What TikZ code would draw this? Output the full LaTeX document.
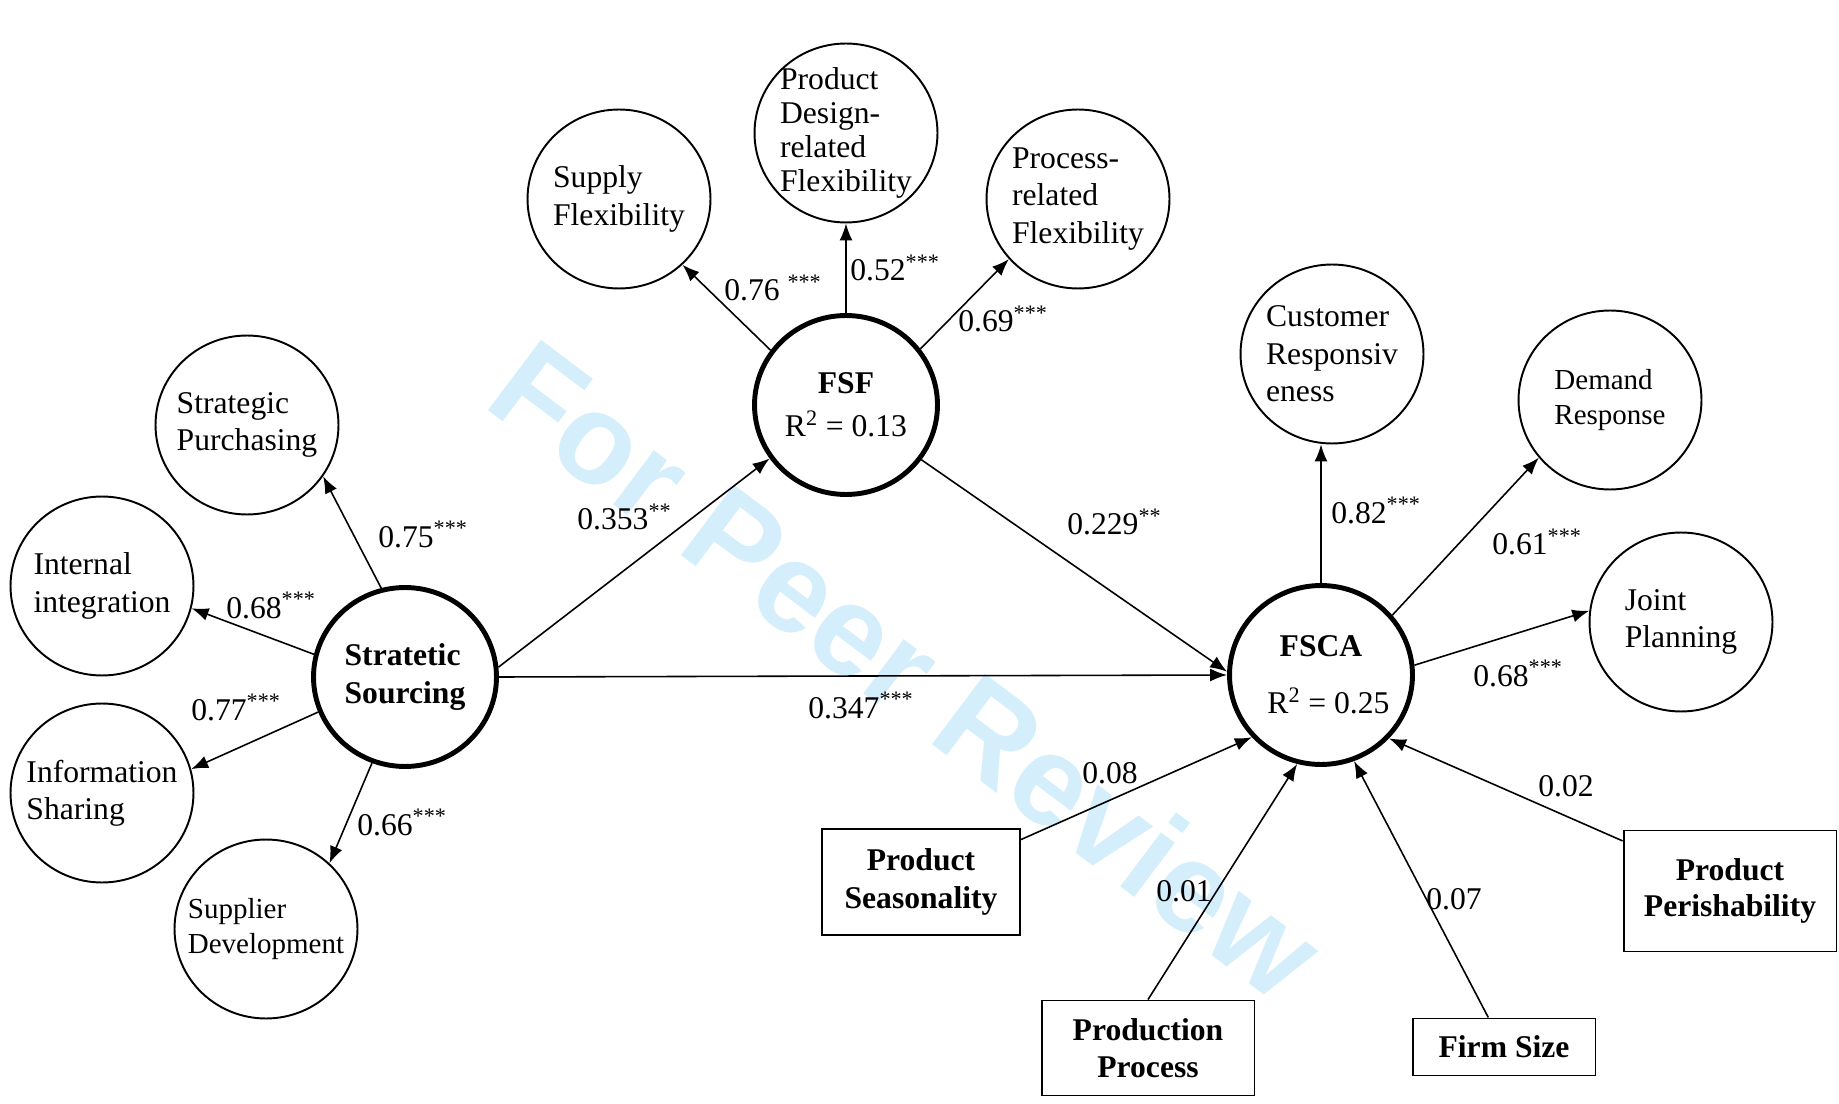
\documentclass[tikz,border=0pt]{standalone}
\usepackage{fontspec}
\setmainfont{Liberation Serif}
\newfontfamily\wmfont{Liberation Sans}
\usetikzlibrary{shapes.geometric,arrows.meta}
\definecolor{wmblue}{RGB}{212,239,251}
\newcommand{\sig}[1]{\textsuperscript{#1}}

\begin{document}
\begin{tikzpicture}[x=0.02cm,y=-0.02cm,
		latent/.style={ellipse,draw,line width=1.1pt,minimum width=3.66cm,minimum height=3.58cm,inner sep=-0.3cm,align=left,font=\fontsize{18}{21.3}\selectfont},
		factor/.style={latent,line width=2.8pt},
		ctrl/.style={rectangle,draw,line width=1.1pt,inner sep=0pt,align=center,font=\bfseries\fontsize{18}{21.3}\selectfont},
		coef/.style={anchor=base west,inner sep=0pt,font=\fontsize{18}{21.3}\selectfont},
		arr/.style={line width=0.9pt,-{Latex[length=0.34cm,width=0.26cm]}}]
		\useasboundingbox (0,0) rectangle (1839,1104);
		% watermark
		\node[rotate=-37,anchor=base west,inner sep=0pt,text=wmblue,font=\wmfont\bfseries\fontsize{73}{73}\selectfont] (wm) at (481,405) {For Peer Review};
		% Stratetic Sourcing and its indicators
		\node[factor,font=\bfseries\fontsize{18}{21.3}\selectfont] (ss) at (405,677) {Stratetic\\Sourcing};
		\node[latent] (sp) at (247,425) {Strategic\\Purchasing};
		\node[latent] (ii) at (102,586) {Internal\\integration};
		\node[latent] (is) at (102,793) {Information\\Sharing};
		\node[latent,font=\fontsize{16.5}{19.5}\selectfont] (sd) at (266,929) {Supplier\\Development};
		% FSF
		\node[factor,align=center] (fsf) at (846,405) {\textbf{FSF}\\[3pt]R\textsuperscript{2} = 0.13};
		\node[latent] (sf) at (619,199) {Supply\\Flexibility};
		\node[latent,font=\fontsize{18}{19.3}\selectfont] (pdf) at (846,133) {Product\\Design-\\related\\Flexibility};
		\node[latent] (prf) at (1078,199) {Process-\\related\\Flexibility};
		% FSCA
		\node[factor,align=center] (fsca) at (1321,675) {\textbf{FSCA}\\[11pt]\hspace{0.3cm}R\textsuperscript{2} = 0.25};
		\node[latent] (cr) at (1332,354) {Customer\\Responsiv\\eness};
		\node[latent,font=\fontsize{16.5}{19.5}\selectfont] (dr) at (1610,400) {Demand\\Response};
		\node[latent] (jp) at (1681,622) {Joint\\Planning};
		% controls
		\node[ctrl,minimum width=3.96cm,minimum height=2.12cm] (ps) at (921,882) {Product\\Seasonality};
		\node[ctrl,minimum width=4.26cm,minimum height=1.9cm] (pp) at (1148,1048) {Production\\Process};
		\node[ctrl,minimum width=3.66cm,minimum height=1.14cm] (fs) at (1504,1047) {Firm Size};
		\node[ctrl,minimum width=4.26cm,minimum height=2.42cm,font=\bfseries\fontsize{18}{20}\selectfont] (pper) at (1730,891) {Product\\Perishability};
		% paths
		\draw[arr] (ss.105)--(sp.-34);
		\draw[arr] (ss.166)--(ii.-14);
		\draw[arr] (ss.202)--(is.15);
		\draw[arr] (ss.249)--(sd.46);
		\draw[arr] (ss.6)--(fsf.215);
		\draw[arr] (ss.east)--(fsca.west);
		\draw[arr] (fsf.-36)--(fsca.178);
		\draw[arr] (fsf.144)--(sf.-46);
		\draw[arr] (fsf.north)--(pdf.south);
		\draw[arr] (fsf.37)--(prf.221);
		\draw[arr] (fsca.north)--(fsca.north |- cr.south);
		\draw[arr] (fsca.40)--(dr.219);
		\draw[arr] (fsca.6)--(jp.173);
		\draw[arr] (ps.23)--(fsca.222);
		\draw[arr] (pp.north)--(fsca.255);
		\draw[arr] (fs.118)--(fsca.291);
		\draw[arr] (pper.155)--(fsca.317);
		% coefficients
		\node[coef] (c1) at (378,547) {0.75\sig{***}};
		\node[coef] (c2) at (226,618) {0.68\sig{***}};
		\node[coef] (c3) at (191,720) {0.77\sig{***}};
		\node[coef] (c4) at (357,835) {0.66\sig{***}};
		\node[coef] (c5) at (724,301) {0.76 \sig{***}};
		\node[coef] (c6) at (850,281) {0.52\sig{***}};
		\node[coef] (c7) at (958,332) {0.69\sig{***}};
		\node[coef] (c8) at (577,530) {0.353\sig{**}};
		\node[coef] (c9) at (1067,535) {0.229\sig{**}};
		\node[coef] (c10) at (808,718) {0.347\sig{***}};
		\node[coef] (c11) at (1331,523) {0.82\sig{***}};
		\node[coef] (c12) at (1492,555) {0.61\sig{***}};
		\node[coef] (c13) at (1473,686) {0.68\sig{***}};
		\node[coef] (c14) at (1082,783) {0.08};
		\node[coef] (c15) at (1156,901) {0.01};
		\node[coef] (c16) at (1426,909) {0.07};
		\node[coef] (c17) at (1538,796) {0.02};
\end{tikzpicture}
\end{document}
